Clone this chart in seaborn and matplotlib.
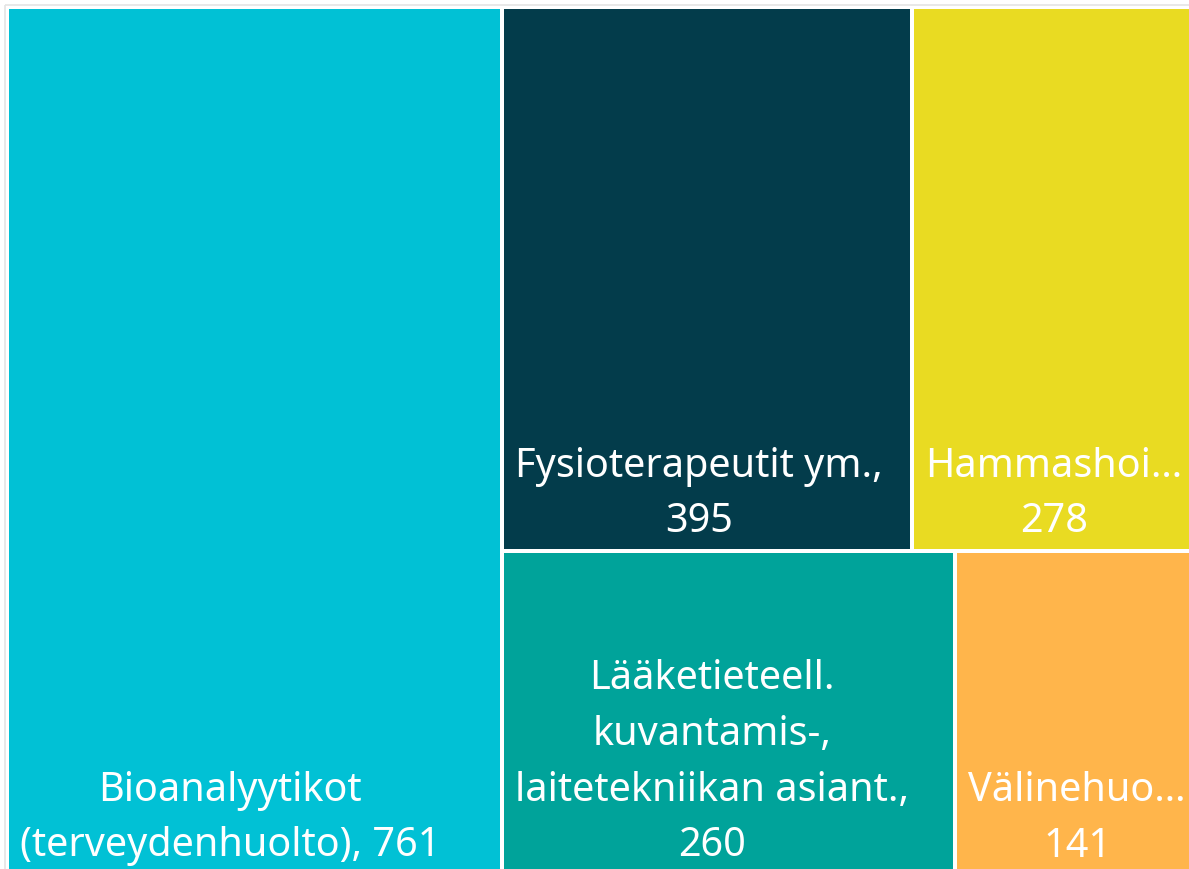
import matplotlib
matplotlib.use("Agg")
import matplotlib.pyplot as plt
from matplotlib.patches import Rectangle
import seaborn as sns

# data
labels = [
    "Bioanalyytikot\n(terveydenhuolto), 761",
    "Fysioterapeutit ym.,\n395",
    "Hammashoi…\n278",
    "Lääketieteell.\nkuvantamis-,\nlaitetekniikan asiant.,\n260",
    "Välinehuo…\n141",
]
values = [761, 395, 278, 260, 141]
colors = ["#01C1D5", "#033C4B", "#E9DB22", "#00A39A", "#FFB54B"]


def worst(row, side):
    s = sum(row)
    return max(max(side * side * r / (s * s), s * s / (side * side * r)) for r in row)


def squarify(vals, x, y, w, h):
    # vals already scaled to area of the rect
    rects = []
    vals = list(vals)
    while vals:
        side = min(w, h)
        row = [vals[0]]
        i = 1
        while i < len(vals) and worst(row + [vals[i]], side) <= worst(row, side):
            row.append(vals[i])
            i += 1
        vals = vals[i:]
        s = sum(row)
        if w >= h:
            cw = s / h
            cy = y
            for r in row:
                rh = r / cw
                rects.append((x, cy, cw, rh))
                cy += rh
            x += cw
            w -= cw
        else:
            rh = s / w
            cx = x
            for r in row:
                rw = r / rh
                rects.append((cx, y, rw, rh))
                cx += rw
            y += rh
            h -= rh
    return rects


sns.set_theme(style="white")
plt.rcParams["font.family"] = ["Noto Sans", "DejaVu Sans"]

fig = plt.figure(figsize=(11.89, 8.69), dpi=100)
ax = fig.add_axes([0, 0, 1, 1])
ax.set_xlim(0, 1189)
ax.set_ylim(869, 0)
ax.axis("off")

# layout region (px), slightly cropped at right/bottom like the original
X0, Y0, X1, Y1 = 7, 7, 1201, 875
total = sum(values)
area = (X1 - X0) * (Y1 - Y0)
scaled = [v / total * area for v in values]
rects = squarify(scaled, X0, Y0, X1 - X0, Y1 - Y0)

ax.add_patch(Rectangle((5, 5), 1200, 900, fill=False, edgecolor="#e4e4e4", lw=1.2))

gap = 2
for (rx, ry, rw, rh), lab, col in zip(rects, labels, colors):
    ax.add_patch(Rectangle((rx + gap, ry + gap), rw - 2 * gap, rh - 2 * gap,
                           facecolor=col, edgecolor="none"))
    ax.text(rx + gap + 11, ry + rh - gap - 6.5, lab, ha="left", va="bottom",
            multialignment="center", color="white", fontsize=28.5,
            linespacing=1.53)

fig.savefig("out.png", dpi=100)
